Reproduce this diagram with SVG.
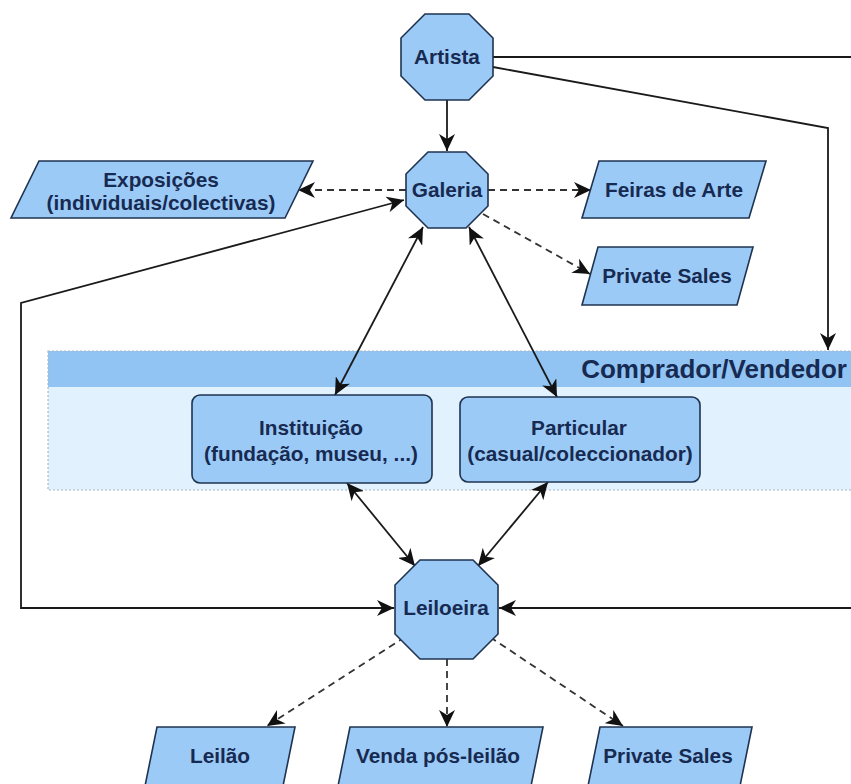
<svg xmlns="http://www.w3.org/2000/svg" width="851" height="784" viewBox="0 0 851 784">
<style>
.shape{fill:#9ccaf6;stroke:#1e3350;stroke-width:1.6}
.lbl{font-family:"Liberation Sans",Arial,sans-serif;font-weight:bold;font-size:20.8px;fill:#172a52;text-anchor:middle}
.ttl{font-family:"Liberation Sans",Arial,sans-serif;font-weight:bold;font-size:26px;fill:#172a52;text-anchor:end}
.solid{fill:none;stroke:#1a1a1a;stroke-width:1.8}
.dash{fill:none;stroke:#333;stroke-width:1.8;stroke-dasharray:7,5}
</style>
<defs>
<marker id="ah" markerUnits="userSpaceOnUse" markerWidth="18" markerHeight="16" viewBox="0 0 18 16" refX="17" refY="8" orient="auto-start-reverse">
<path d="M0,0 L17,8 L0,16 L5,8 z" fill="#111"/>
</marker>
</defs>
<rect width="851" height="784" fill="#ffffff"/>

<g id="container">
<rect x="48" y="351" width="806" height="139" fill="#e1f1fd"/>
<rect x="48" y="351" width="806" height="36" fill="#91c4f3"/>
<rect x="48" y="351" width="806" height="139" fill="none" stroke="#a9b6c3" stroke-width="1.2" stroke-dasharray="2,2"/>
<text class="ttl" x="847" y="378">Comprador/Vendedor</text>
</g>

<g id="connectors">
<line class="solid" x1="447" y1="100" x2="447" y2="151" marker-end="url(#ah)"/>
<polyline class="solid" points="493,67 828,128 828,350" marker-end="url(#ah)"/>
<polyline class="solid" points="493,57 860,57 860,608 499,608" marker-end="url(#ah)"/>
<polyline class="solid" points="404,200 21,303 21,608 394,608" marker-start="url(#ah)" marker-end="url(#ah)"/>
<line class="dash" x1="406" y1="190" x2="298" y2="190" marker-end="url(#ah)"/>
<line class="dash" x1="488" y1="190" x2="591" y2="190" marker-end="url(#ah)"/>
<line class="dash" x1="483" y1="214" x2="590" y2="274" marker-end="url(#ah)"/>
<line class="solid" x1="423" y1="227" x2="335" y2="395" marker-start="url(#ah)" marker-end="url(#ah)"/>
<line class="solid" x1="469" y1="227" x2="557" y2="397" marker-start="url(#ah)" marker-end="url(#ah)"/>
<line class="solid" x1="347" y1="483" x2="415" y2="566" marker-start="url(#ah)" marker-end="url(#ah)"/>
<line class="solid" x1="548" y1="482" x2="478" y2="566" marker-start="url(#ah)" marker-end="url(#ah)"/>
<line class="dash" x1="405" y1="637" x2="267" y2="726" marker-end="url(#ah)"/>
<line class="dash" x1="447" y1="659" x2="447" y2="727" marker-end="url(#ah)"/>
<line class="dash" x1="490" y1="637" x2="623" y2="726" marker-end="url(#ah)"/>
</g>

<g id="artista">
<polygon class="shape" points="425,14 469,14 493,38 493,76 469,100 425,100 401,76 401,38"/>
<text class="lbl" x="447" y="64">Artista</text>
</g>

<g id="galeria">
<polygon class="shape" points="428,152 466,152 488,174 488,206 466,228 428,228 406,206 406,174"/>
<text class="lbl" x="447" y="197">Galeria</text>
</g>

<g id="leiloeira">
<polygon class="shape" points="420,560 473,560 498,585 498,634 473,659 420,659 395,634 395,585"/>
<text class="lbl" x="446" y="615">Leiloeira</text>
</g>

<g id="exposicoes">
<polygon class="shape" points="39,161 313,161 285,218 11,218"/>
<text class="lbl" x="161" y="187">Exposições</text>
<text class="lbl" x="161" y="210">(individuais/colectivas)</text>
</g>

<g id="feiras">
<polygon class="shape" points="599,161 766,161 749,218 582,218"/>
<text class="lbl" x="674" y="197">Feiras de Arte</text>
</g>

<g id="private-sales-galeria">
<polygon class="shape" points="598,247 753,247 737,305 582,305"/>
<text class="lbl" x="667" y="283">Private Sales</text>
</g>

<g id="instituicao">
<rect class="shape" x="192" y="395" width="240" height="88" rx="8"/>
<text class="lbl" x="311" y="435">Instituição</text>
<text class="lbl" x="311" y="461">(fundação, museu, ...)</text>
</g>

<g id="particular">
<rect class="shape" x="460" y="397" width="240" height="85" rx="8"/>
<text class="lbl" x="579" y="435">Particular</text>
<text class="lbl" x="580" y="461">(casual/coleccionador)</text>
</g>

<g id="leilao">
<polygon class="shape" points="157,727 295,727 283,786 145,786"/>
<text class="lbl" x="220" y="763">Leilão</text>
</g>

<g id="venda">
<polygon class="shape" points="350,727 543,727 531,786 338,786"/>
<text class="lbl" x="438" y="763">Venda pós-leilão</text>
</g>

<g id="private-sales-leiloeira">
<polygon class="shape" points="600,727 752,727 740,786 588,786"/>
<text class="lbl" x="668" y="763">Private Sales</text>
</g>
</svg>
